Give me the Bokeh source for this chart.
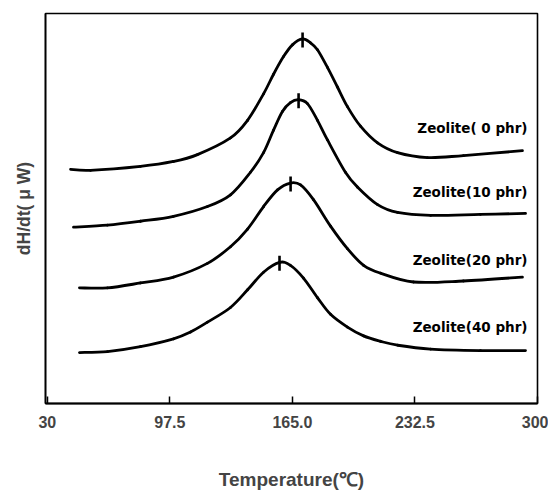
import numpy as np
from bokeh.plotting import figure
from bokeh.models import FixedTicker, Range1d, Label
from bokeh.embed import file_html
from bokeh.resources import INLINE

# ---- data (temperature in deg C, heat flow in arbitrary units) ----
temp_0 = [42.8, 53.8, 81.3, 99.5, 112.7, 130.9, 140.3, 149.1, 154.6, 160.1, 165.0,
          170.6, 175.0, 178.8, 184.3, 189.8, 195.3, 202.5, 211.9, 222.9, 239.4, 259.2, 291.7]
sig_0 = [239, 238, 242, 247, 254, 271, 289, 316, 336, 354, 366,
         372, 368, 361, 343, 323, 303, 283, 266, 256, 251, 253, 258]

temp_10 = [44.4, 63.1, 81.3, 99.5, 118.2, 130.9, 141.9, 149.1, 154.6, 159.5, 163.9,
           168.4, 173.3, 178.8, 184.3, 194.2, 200.8, 211.9, 222.9, 241.1, 268.6, 293.4]
sig_10 = [180, 182, 186, 191, 201, 213, 236, 256, 279, 298, 307,
          310, 306, 289, 269, 236, 221, 203, 195, 192, 193, 194]

temp_20 = [47.7, 63.1, 81.3, 99.5, 118.2, 130.9, 140.3, 149.1, 156.8, 163.9, 169.5, 176.6,
           186.0, 195.3, 204.2, 213.5, 231.7, 259.2, 291.7]
sig_20 = [118, 118, 123, 129, 143, 160, 178, 201, 218, 225, 223, 208,
          181, 158, 141, 133, 124, 125, 129]

temp_40 = [47.7, 63.1, 81.3, 99.5, 108.9, 118.2, 130.9, 140.3, 149.1, 157.9, 163.9, 171.1,
           178.8, 186.0, 195.3, 204.2, 213.5, 222.9, 241.1, 268.6, 293.4]
sig_40 = [52, 53, 58, 66, 73, 83, 98, 116, 134, 144, 141, 128,
          108, 91, 78, 69, 63.5, 59.5, 55.5, 54, 54]

peak_temp = [170.6, 168.4, 164.0, 157.9]
peak_sig = [371, 309, 224, 143]

series_labels = ["Zeolite( 0 phr)", "Zeolite(10 phr)", "Zeolite(20 phr)", "Zeolite(40 phr)"]
label_sig = [281, 216, 146, 78]

x_ticks = [30, 97.5, 165, 232.5, 300]
x_tick_labels = ["30", "97.5", "165.0", "232.5", "300"]

FONT = "Liberation Sans"
LABEL_FONT = "DejaVu Sans"

p = figure(width=548, height=492, output_backend="svg", toolbar_location=None,
           x_range=Range1d(29, 300), y_range=Range1d(0, 398),
           min_border_left=45, min_border_right=11, min_border_top=13, min_border_bottom=81)

p.background_fill_color = "white"
p.border_fill_color = "white"
p.outline_line_color = "black"
p.outline_line_width = 1.6
p.xgrid.visible = False
p.ygrid.visible = False


def smooth_segments(xs, ys):
    """Catmull-Rom style cubic segments passing through every read point."""
    x = np.asarray(xs, float)
    y = np.asarray(ys, float)
    n = len(x)
    x0, y0, x1, y1, cx0, cy0, cx1, cy1 = ([] for _ in range(8))
    for i in range(n - 1):
        a = max(i - 1, 0)
        d = min(i + 2, n - 1)
        x0.append(x[i]); y0.append(y[i]); x1.append(x[i + 1]); y1.append(y[i + 1])
        cx0.append(x[i] + (x[i + 1] - x[a]) / 6.0)
        cy0.append(y[i] + (y[i + 1] - y[a]) / 6.0)
        cx1.append(x[i + 1] - (x[d] - x[i]) / 6.0)
        cy1.append(y[i + 1] - (y[d] - y[i]) / 6.0)
    return dict(x0=x0, y0=y0, x1=x1, y1=y1, cx0=cx0, cy0=cy0, cx1=cx1, cy1=cy1)


for t, s in [(temp_0, sig_0), (temp_10, sig_10), (temp_20, sig_20), (temp_40, sig_40)]:
    seg = smooth_segments(t, s)
    p.bezier(x0=seg["x0"], y0=seg["y0"], x1=seg["x1"], y1=seg["y1"],
             cx0=seg["cx0"], cy0=seg["cy0"], cx1=seg["cx1"], cy1=seg["cy1"],
             line_color="black", line_width=2.8, line_cap="round")

p.scatter(peak_temp, peak_sig, marker="dash", angle=1.5708, size=15,
          line_color="black", line_width=2.6)

for txt, ys in zip(series_labels, label_sig):
    p.add_layout(Label(x=294.5, y=ys, text=txt, text_align="right", text_baseline="middle",
                       text_font=LABEL_FONT, text_font_style="bold", text_font_size="13.5px",
                       text_color="black"))

xa = p.xaxis[0]
xa.ticker = FixedTicker(ticks=x_ticks)
xa.major_label_overrides = dict(zip(x_ticks, x_tick_labels))
xa.major_tick_in = 7
xa.major_tick_out = 0
xa.minor_tick_line_color = None
xa.major_tick_line_width = 1.5
xa.axis_line_width = 2.2
xa.major_label_text_font = FONT
xa.major_label_text_font_style = "bold"
xa.major_label_text_font_size = "16px"
xa.major_label_standoff = 12
xa.axis_label = "Temperature(℃)"
xa.axis_label_text_font = FONT
xa.axis_label_text_font_style = "bold"
xa.axis_label_text_font_size = "19px"
xa.axis_label_standoff = 38

ya = p.yaxis[0]
ya.ticker = FixedTicker(ticks=[])
ya.major_tick_line_color = None
ya.minor_tick_line_color = None
ya.axis_line_width = 1.6
ya.axis_label = "dH/dt( μ W)"
ya.axis_label_text_font = FONT
ya.axis_label_text_font_style = "bold"
ya.axis_label_text_font_size = "17.5px"
ya.axis_label_standoff = 12

open("out.html", "w").write(file_html(p, INLINE))
